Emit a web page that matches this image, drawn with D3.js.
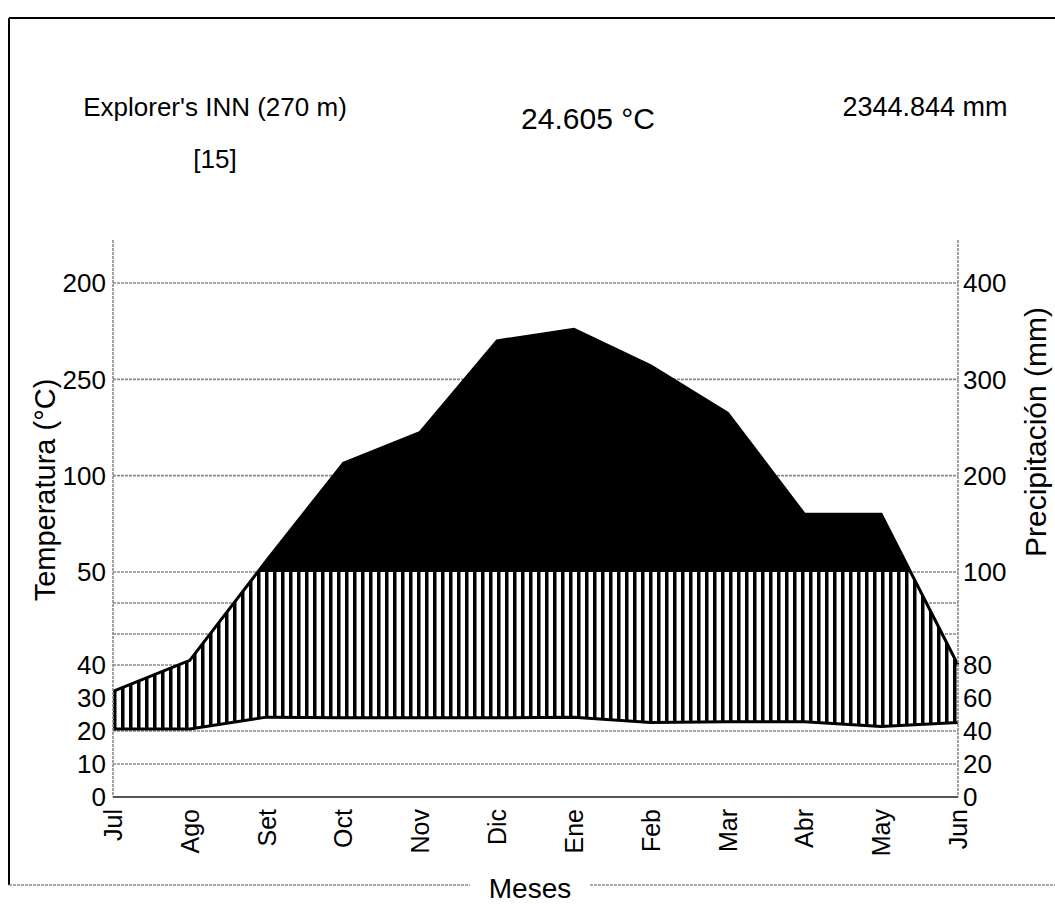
<!DOCTYPE html>
<html>
<head>
<meta charset="utf-8">
<script src="https://cdn.jsdelivr.net/npm/d3@7"></script>
<style>
  body { margin: 0; background: #fff; }
  svg { display: block; font-family: "Liberation Sans", Arial, sans-serif; }
</style>
</head>
<body>
<div id="chart"></div>
<script>
// Datos del climograma
const months = ["Jul", "Ago", "Set", "Oct", "Nov", "Dic", "Ene", "Feb", "Mar", "Abr", "May", "Jun"];
const temperature = [20.6, 20.6, 24.2, 24.0, 24.0, 24.0, 24.2, 22.6, 22.8, 22.8, 21.4, 22.6];   // °C
const precipitation = [64, 81, 112, 213, 245, 340, 352, 314, 265, 160, 160, 80];            // mm

// Ticks: precipitación (derecha) y etiquetas de temperatura (izquierda) en las mismas posiciones
const precipTicks = [0, 20, 40, 60, 80, 100, 200, 300, 400];
const tempTickLabels = ["0", "10", "20", "30", "40", "50", "100", "250", "200"];
const gridValues = [0, 20, 40, 60, 80, 86.67, 93.33, 100, 200, 300, 400];

const station = "Explorer's INN (270 m)";
const years = "[15]";
const meanTemp = "24.605 °C";
const totalPrecip = "2344.844 mm";

const width = 1055, height = 904;
const left = 113, right = 958;

const svg = d3.select("#chart").append("svg")
  .attr("width", width)
  .attr("height", height);

// escalas
const x = d3.scalePoint().domain(months).range([left, right]);
const y = d3.scaleLinear().domain([0, 80, 100, 400]).range([797, 665, 572, 283]);

const data = months.map((m, i) => ({ m, t: temperature[i], p: precipitation[i] }));

// patrón de rayas verticales (periodo húmedo)
const defs = svg.append("defs");
const pat = defs.append("pattern")
  .attr("id", "vlines")
  .attr("patternUnits", "userSpaceOnUse")
  .attr("width", 8)
  .attr("height", 10);
pat.append("rect").attr("width", 8).attr("height", 10).attr("fill", "#fff");
pat.append("rect").attr("x", 1).attr("width", 3.5).attr("height", 10).attr("fill", "#000");

defs.append("clipPath").attr("id", "below100")
  .append("rect")
  .attr("x", left).attr("y", y(100))
  .attr("width", right - left).attr("height", y(0) - y(100));
defs.append("clipPath").attr("id", "above100")
  .append("rect")
  .attr("x", left).attr("y", 0)
  .attr("width", right - left).attr("height", y(100));

// marco
svg.append("line").attr("x1", 9).attr("x2", width).attr("y1", 18).attr("y2", 18)
  .attr("stroke", "#000").attr("stroke-width", 2);
svg.append("line").attr("x1", 9).attr("x2", 9).attr("y1", 18).attr("y2", 885)
  .attr("stroke", "#000").attr("stroke-width", 2);

// líneas de la cuadrícula
svg.append("g").selectAll("line")
  .data(gridValues)
  .enter().append("line")
  .attr("x1", left).attr("x2", right)
  .attr("y1", d => y(d)).attr("y2", d => y(d))
  .attr("stroke", "#8a8a8a")
  .attr("stroke-width", 1.6)
  .attr("stroke-dasharray", "3,1");

// área húmeda (rayas)
const humid = d3.area()
  .x(d => x(d.m))
  .y0(d => y(d.t * 2))
  .y1(d => y(d.p));
svg.append("path")
  .datum(data)
  .attr("d", humid)
  .attr("fill", "url(#vlines)")
  .attr("clip-path", "url(#below100)");

// área superhúmeda (>100 mm, negro)
const superHumid = d3.area()
  .x(d => x(d.m))
  .y0(y(100))
  .y1(d => y(d.p));
svg.append("path")
  .datum(data)
  .attr("d", superHumid)
  .attr("fill", "#000")
  .attr("clip-path", "url(#above100)");

// curvas
const lineP = d3.line().x(d => x(d.m)).y(d => y(d.p));
const lineT = d3.line().x(d => x(d.m)).y(d => y(d.t * 2));
svg.append("path").datum(data).attr("d", lineP)
  .attr("fill", "none").attr("stroke", "#000").attr("stroke-width", 3);
svg.append("path").datum(data).attr("d", lineT)
  .attr("fill", "none").attr("stroke", "#000").attr("stroke-width", 3);

// ejes
[left, right].forEach(xx => {
  svg.append("line")
    .attr("x1", xx).attr("x2", xx)
    .attr("y1", 240).attr("y2", y(0))
    .attr("stroke", "#8a8a8a").attr("stroke-width", 1.6)
    .attr("stroke-dasharray", "3,1");
});
svg.append("line")
  .attr("x1", left).attr("x2", right)
  .attr("y1", y(0)).attr("y2", y(0))
  .attr("stroke", "#555").attr("stroke-width", 2);

// etiquetas del eje izquierdo
svg.append("g").selectAll("text")
  .data(precipTicks)
  .enter().append("text")
  .attr("x", left - 7)
  .attr("y", d => y(d))
  .attr("dy", "0.36em")
  .attr("text-anchor", "end")
  .attr("font-size", 26)
  .text((d, i) => tempTickLabels[i]);

// etiquetas del eje derecho
svg.append("g").selectAll("text")
  .data(precipTicks)
  .enter().append("text")
  .attr("x", right + 5)
  .attr("y", d => y(d))
  .attr("dy", "0.36em")
  .attr("text-anchor", "start")
  .attr("font-size", 26)
  .text(d => d);

// meses
svg.append("g").selectAll("text")
  .data(months)
  .enter().append("text")
  .attr("transform", d => `translate(${x(d)},${y(0) + 12}) rotate(-90)`)
  .attr("dy", "0.36em")
  .attr("text-anchor", "end")
  .attr("font-size", 25)
  .text(d => d);

// títulos de los ejes
svg.append("text")
  .attr("transform", "translate(45,490) rotate(-90)")
  .attr("text-anchor", "middle")
  .attr("dy", "0.36em")
  .attr("font-size", 29)
  .text("Temperatura (°C)");
svg.append("text")
  .attr("transform", "translate(1035,432) rotate(-90)")
  .attr("text-anchor", "middle")
  .attr("dy", "0.36em")
  .attr("font-size", 30)
  .text("Precipitación (mm)");

// línea y rótulo "Meses"
svg.append("line").attr("x1", 9).attr("x2", 470).attr("y1", 885).attr("y2", 885)
  .attr("stroke", "#8a8a8a").attr("stroke-width", 1.6).attr("stroke-dasharray", "3,1");
svg.append("line").attr("x1", 590).attr("x2", width).attr("y1", 885).attr("y2", 885)
  .attr("stroke", "#8a8a8a").attr("stroke-width", 1.6).attr("stroke-dasharray", "3,1");
svg.append("text")
  .attr("x", 530).attr("y", 898)
  .attr("text-anchor", "middle")
  .attr("font-size", 28)
  .text("Meses");

// encabezado
svg.append("text").attr("x", 215).attr("y", 116).attr("text-anchor", "middle")
  .attr("font-size", 26).text(station);
svg.append("text").attr("x", 215).attr("y", 168).attr("text-anchor", "middle")
  .attr("font-size", 26).text(years);
svg.append("text").attr("x", 588).attr("y", 129).attr("text-anchor", "middle")
  .attr("font-size", 30).text(meanTemp);
svg.append("text").attr("x", 925).attr("y", 116).attr("text-anchor", "middle")
  .attr("font-size", 27).text(totalPrecip);
</script>
</body>
</html>
